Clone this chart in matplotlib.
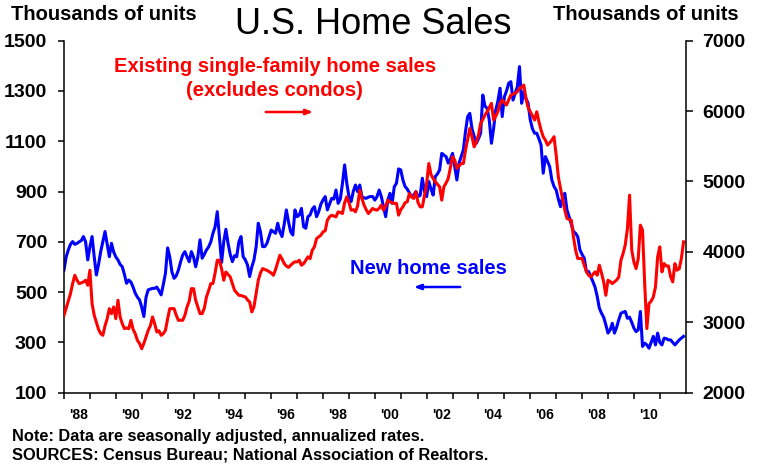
import numpy as np
import matplotlib
matplotlib.use('Agg')
import matplotlib.pyplot as plt

plt.rcParams['font.family'] = ['Liberation Sans', 'DejaVu Sans']

# monthly data, Jan 1988 - Dec 2011 (thousands, SAAR)
start_year = 1988
new_home = [
    588, 640, 668, 690, 701, 690, 694, 700, 705, 721, 700, 628,    # 1988
    680, 721, 640, 568, 610, 661, 700, 741, 690, 641, 694, 660,    # 1989
    640, 628, 610, 601, 570, 535, 548, 540, 520, 496, 480, 469,    # 1990
    440, 403, 480, 509, 512, 515, 515, 520, 505, 489, 530, 575,    # 1991
    676, 640, 580, 555, 565, 588, 620, 648, 661, 640, 621, 661,    # 1992
    640, 601, 640, 708, 635, 650, 668, 680, 700, 734, 760, 820,    # 1993
    720, 618, 700, 750, 694, 650, 621, 645, 641, 700, 721, 641,    # 1994
    628, 608, 562, 600, 628, 680, 774, 740, 681, 681, 694, 720,    # 1995
    747, 740, 734, 774, 740, 721, 770, 827, 780, 740, 727, 827,    # 1996
    800, 807, 833, 760, 754, 800, 807, 830, 840, 800, 820, 850,    # 1997
    867, 880, 827, 850, 873, 870, 906, 853, 870, 933, 1006, 933,   # 1998
    880, 860, 900, 926, 900, 926, 880, 875, 873, 878, 880, 880,    # 1999
    866, 880, 906, 880, 840, 800, 866, 893, 853, 919, 933, 990,    # 2000
    986, 946, 920, 910, 895, 880, 886, 900, 880, 885, 953, 900,    # 2001
    880, 940, 910, 886, 960, 970, 986, 1052, 1045, 1039, 1013, 1030,   # 2002
    1052, 1000, 946, 1013, 1040, 1066, 1140, 1198, 1211, 1150, 1120, 1092,  # 2003
    1110, 1132, 1284, 1240, 1231, 1185, 1092, 1150, 1224, 1260, 1311, 1198,  # 2004
    1277, 1300, 1331, 1337, 1264, 1290, 1317, 1397, 1251, 1297, 1270, 1251,  # 2005
    1185, 1150, 1132, 1132, 1110, 1085, 973, 1039, 1020, 999, 946, 920,      # 2006
    906, 870, 840, 880, 893, 827, 800, 770, 741, 734, 720, 668,    # 2007
    650, 635, 582, 582, 562, 542, 520, 483, 436, 416, 400, 370,    # 2008
    337, 350, 376, 337, 360, 390, 416, 420, 423, 396, 400, 380,    # 2009
    357, 343, 350, 423, 284, 297, 290, 277, 300, 324, 290, 337,    # 2010
    300, 290, 317, 315, 310, 310, 300, 290, 300, 310, 317, 324,    # 2011
]
existing_sf = [
    3099, 3200, 3300, 3407, 3550, 3668, 3600, 3550, 3560, 3573, 3597, 3526,  # 1988
    3739, 3265, 3100, 3000, 2900, 2839, 2815, 2950, 3050, 3194, 3123, 3218,  # 1989
    3052, 3313, 3076, 2980, 2910, 2920, 2910, 3028, 2900, 2839, 2744, 2700,  # 1990
    2625, 2700, 2791, 2886, 2950, 3076, 2980, 2862, 2880, 2815, 2840, 2886,  # 1991
    3050, 3194, 3194, 3194, 3100, 3028, 3030, 3028, 3100, 3218, 3300, 3478,  # 1992
    3478, 3313, 3220, 3123, 3123, 3200, 3360, 3450, 3550, 3550, 3700, 3881,  # 1993
    3881, 3760, 3597, 3715, 3680, 3645, 3550, 3455, 3420, 3384, 3380, 3370,  # 1994
    3360, 3320, 3289, 3147, 3220, 3407, 3597, 3700, 3763, 3750, 3739, 3720,  # 1995
    3700, 3668, 3750, 3850, 3953, 3900, 3834, 3800, 3780, 3811, 3840, 3860,  # 1996
    3858, 3882, 3811, 3834, 3880, 3929, 3905, 4024, 4071, 4189, 4213, 4237,  # 1997
    4285, 4300, 4450, 4498, 4521, 4510, 4498, 4569, 4560, 4545, 4700, 4782,  # 1998
    4700, 4592, 4600, 4569, 4650, 4877, 4760, 4664, 4600, 4545, 4580, 4617,  # 1999
    4600, 4593, 4620, 4664, 4593, 4650, 4735, 4711, 4700, 4688, 4690, 4522,  # 2000
    4600, 4640, 4700, 4711, 4830, 4780, 4759, 4854, 4700, 4640, 4640, 4800,  # 2001
    4972, 5256, 5100, 5043, 4996, 4960, 4925, 4735, 4925, 4980, 5043, 5200,  # 2002
    5351, 5304, 5185, 5220, 5256, 5256, 5446, 5600, 5754, 5636, 5493, 5560,  # 2003
    5659, 5825, 5880, 5944, 5991, 6050, 6110, 5873, 5930, 5991, 6110, 6157,  # 2004
    6120, 6086, 6160, 6228, 6240, 6252, 6275, 6323, 6340, 6370, 6181, 6050,  # 2005
    5991, 5930, 5873, 5991, 5850, 5730, 5636, 5588, 5517, 5550, 5588, 5636,  # 2006
    5375, 5067, 4901, 4750, 4593, 4474, 4460, 4451, 4214, 4024, 3906, 3906,  # 2007
    3906, 3811, 3720, 3669, 3645, 3680, 3716, 3669, 3811, 3700, 3574, 3384,  # 2008
    3597, 3580, 3550, 3574, 3600, 3645, 3882, 3977, 4100, 4332, 4806, 4024,  # 2009
    3858, 3763, 3900, 4380, 4309, 3550, 2910, 3266, 3300, 3360, 3503, 3929,  # 2010
    4072, 3716, 3834, 3800, 3800, 3650, 3574, 3834, 3740, 3760, 3906, 4143,  # 2011
]
left_ticks = [100, 300, 500, 700, 900, 1100, 1300, 1500]
right_ticks = [2000, 3000, 4000, 5000, 6000, 7000]
label_years = list(range(1988, 2011, 2))

t = start_year + np.arange(len(new_home)) / 12.0

W, H = 757, 465
fig = plt.figure(figsize=(W / 100, H / 100), dpi=100)
ax = fig.add_axes([64 / W, 1 - 392.7 / H, (685.7 - 64) / W, (392.7 - 40.7) / H])
ax2 = ax.twinx()

ax.plot(t, new_home, color='#0000ff', lw=2.2, solid_joinstyle='round')
ax2.plot(t, existing_sf, color='#ff0000', lw=2.2, solid_joinstyle='round')

ax.set_xlim(1988, 2012)
ax.set_ylim(100, 1500)
ax2.set_ylim(2000, 7000)

ax.set_yticks(left_ticks)
ax2.set_yticks(right_ticks)
ax.set_xticks(range(1988, 2012))
ax.set_xticklabels([])
ax.set_xticks([y + 0.56 for y in label_years], minor=True)
ax.set_xticklabels(["'%02d" % (y % 100) for y in label_years], minor=True)

for a in (ax, ax2):
    a.spines['top'].set_visible(False)
    for s in a.spines.values():
        s.set_linewidth(1.1)
ax.spines['right'].set_visible(False)
ax2.spines['left'].set_visible(False)
ax2.spines['bottom'].set_visible(False)

ax.tick_params(axis='y', direction='out', length=4, width=1.1, pad=8, labelsize=14)
ax2.tick_params(axis='y', direction='out', length=5, width=1.1, pad=7, labelsize=14)
ax.tick_params(axis='x', which='major', direction='out', length=4, width=1.1)
ax.tick_params(axis='x', which='minor', length=0, pad=11, labelsize=10)
for lab in ax.get_yticklabels() + ax2.get_yticklabels() + ax.get_xticklabels(minor=True):
    lab.set_fontweight('bold')

def fx(px):
    return px / W

def fy(py):
    return 1 - py / H

fig.text(fx(11), fy(15), 'Thousands of units', fontsize=14.5, fontweight='bold', ha='left', va='center')
fig.text(fx(646), fy(15), 'Thousands of units', fontsize=14.5, fontweight='bold', ha='center', va='center')
fig.text(fx(373), fy(24), 'U.S. Home Sales', fontsize=26, ha='center', va='center')

fig.text(fx(275), fy(66), 'Existing single-family home sales', color='#ff0000', fontsize=14.5,
         fontweight='bold', ha='center', va='center')
fig.text(fx(274), fy(91), '(excludes condos)', color='#ff0000', fontsize=14.5,
         fontweight='bold', ha='center', va='center')
ax.annotate('', xy=(fx(316), fy(112)), xytext=(fx(263), fy(112)), xycoords='figure fraction',
            arrowprops=dict(arrowstyle='-|>,head_length=0.4,head_width=0.15', color='#ff0000', lw=1.8))

fig.text(fx(428), fy(268), 'New home sales', color='#0000ff', fontsize=14.5,
         fontweight='bold', ha='center', va='center')
ax.annotate('', xy=(fx(411), fy(287)), xytext=(fx(463), fy(287)), xycoords='figure fraction',
            arrowprops=dict(arrowstyle='-|>,head_length=0.4,head_width=0.15', color='#0000ff', lw=1.8))

fig.text(fx(12), fy(436), 'Note: Data are seasonally adjusted, annualized rates.',
         fontsize=11.8, fontweight='bold', ha='left', va='center')
fig.text(fx(12), fy(455), 'SOURCES: Census Bureau; National Association of Realtors.',
         fontsize=11.8, fontweight='bold', ha='left', va='center')

fig.savefig('out.png', dpi=100)
